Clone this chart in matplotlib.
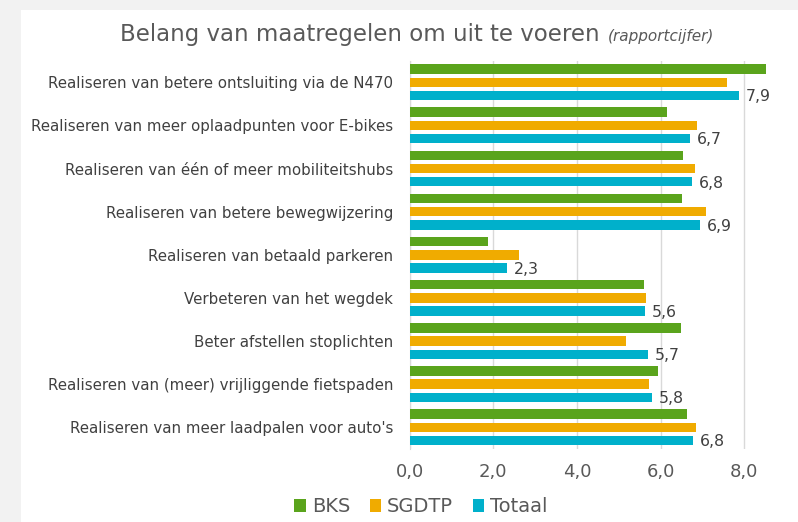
import matplotlib.pyplot as plt
import numpy as np
from matplotlib.patches import Rectangle

categories = [
    "Realiseren van betere ontsluiting via de N470",
    "Realiseren van meer oplaadpunten voor E-bikes",
    "Realiseren van één of meer mobiliteitshubs",
    "Realiseren van betere bewegwijzering",
    "Realiseren van betaald parkeren",
    "Verbeteren van het wegdek",
    "Beter afstellen stoplichten",
    "Realiseren van (meer) vrijliggende fietspaden",
    "Realiseren van meer laadpalen voor auto's",
]
bks = [8.52, 6.16, 6.55, 6.51, 1.87, 5.61, 6.48, 5.94, 6.63]
sgdtp = [7.58, 6.87, 6.83, 7.10, 2.62, 5.66, 5.17, 5.73, 6.85]
totaal = [7.88, 6.70, 6.75, 6.95, 2.32, 5.62, 5.70, 5.80, 6.77]
totaal_labels = ["7,9", "6,7", "6,8", "6,9", "2,3", "5,6", "5,7", "5,8", "6,8"]
xticks = [0, 2, 4, 6, 8]
xtick_labels = ["0,0", "2,0", "4,0", "6,0", "8,0"]

c_bks = "#5aa41c"
c_sg = "#f0ab00"
c_tot = "#00b0cb"
txt = "#595959"

fig = plt.figure(figsize=(7.98, 5.22), dpi=100)
fig.patch.set_facecolor("#f2f2f2")
fig.patches.append(Rectangle((21 / 798, 0), 1, 512 / 522, transform=fig.transFigure,
                             facecolor="white", edgecolor="none", zorder=-1))

ax = fig.add_axes([409.7 / 798, 1 - 448.9 / 522, 1 - 409.7 / 798, (448.9 - 60.7) / 522])
ax.set_zorder(2)
ax.set_facecolor("none")

y = np.arange(len(categories))
slot = 0.306
h = 0.22
ax.barh(y - slot, bks, height=h, color=c_bks, label="BKS", zorder=3)
ax.barh(y, sgdtp, height=h, color=c_sg, label="SGDTP", zorder=3)
ax.barh(y + slot, totaal, height=h, color=c_tot, label="Totaal", zorder=3)

for yi, v, lab in zip(y, totaal, totaal_labels):
    ax.annotate(lab, (v, yi + slot), xytext=(5, -1), textcoords="offset points",
                ha="left", va="center", fontsize=11.3, color="#404040")

ax.set_ylim(8.5, -0.5)
ax.set_xlim(0, (798 - 409.7) / 41.8)
ax.set_yticks(y)
ax.set_yticklabels(categories, fontsize=10.8, color="#404040")
ax.set_xticks(xticks)
ax.set_xticklabels(xtick_labels, fontsize=13, color=txt)
ax.tick_params(axis="both", length=0)
ax.tick_params(axis="y", pad=12)
ax.tick_params(axis="x", pad=10)
for s in ["top", "right", "bottom"]:
    ax.spines[s].set_visible(False)
ax.spines["left"].set_color("#d9d9d9")
ax.grid(axis="x", color="#d9d9d9", linewidth=1, zorder=0)

fig.legend(loc="center", bbox_to_anchor=(421 / 798, 1 - 507 / 522), ncol=3, frameon=False,
           fontsize=14, labelcolor=txt, handlelength=0.6, handleheight=0.6,
           handletextpad=0.3, columnspacing=1.0)

# title in two parts
t1 = fig.text(0, 1 - 34 / 522, "Belang van maatregelen om uit te voeren",
              fontsize=16.5, color=txt, va="center", ha="left")
t2 = fig.text(0, 1 - 36 / 522, "(rapportcijfer)", fontsize=11, style="italic",
              color=txt, va="center", ha="left")
r = fig.canvas.get_renderer()
w1 = t1.get_window_extent(r).width
w2 = t2.get_window_extent(r).width
gap = 8
x0 = 417.5 - (w1 + gap + w2) / 2
t1.set_x(x0 / 798)
t2.set_x((x0 + w1 + gap) / 798)

fig.savefig("out.png", dpi=100, facecolor=fig.get_facecolor())
